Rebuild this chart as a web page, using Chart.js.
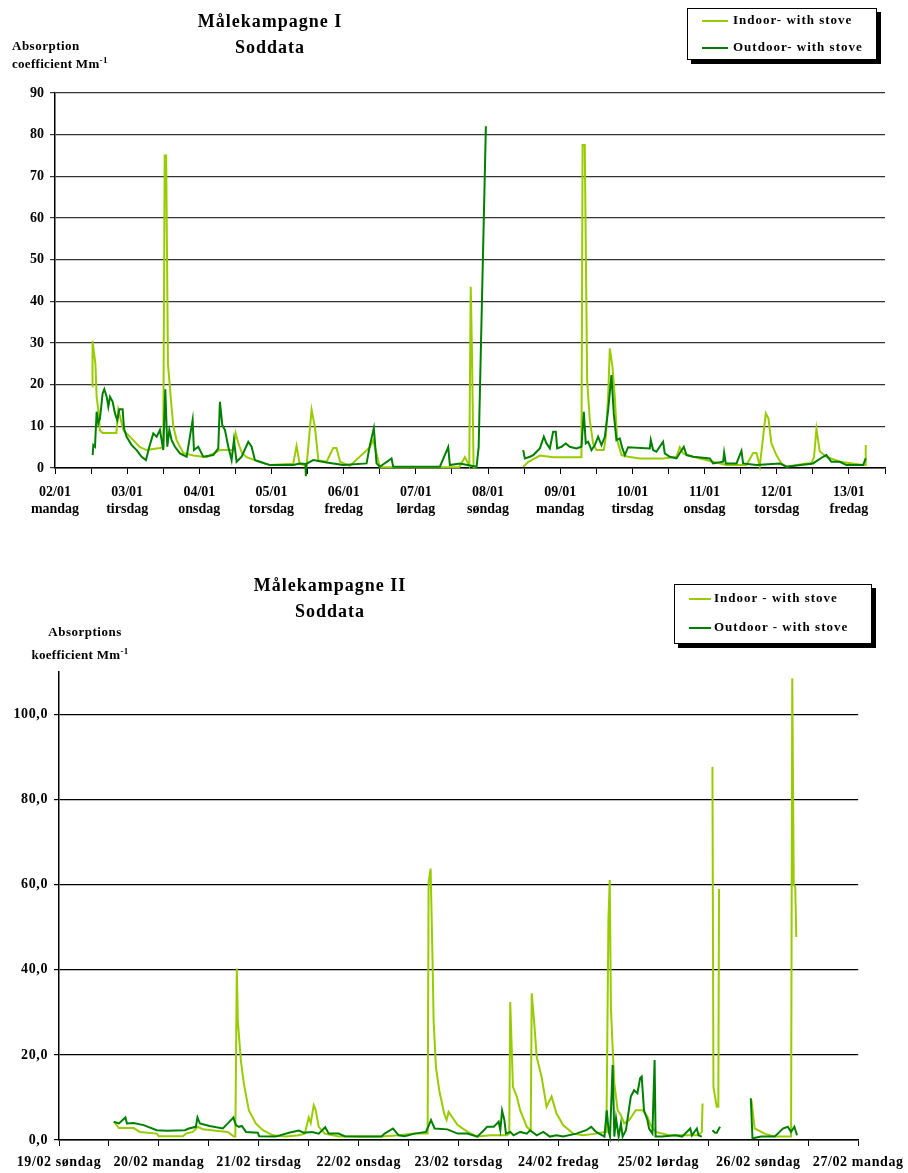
<!DOCTYPE html>
<html><head><meta charset="utf-8">
<script src="https://cdn.jsdelivr.net/npm/chart.js@4.4.1/dist/chart.umd.min.js"></script>
<style>
html,body{margin:0;padding:0;background:#fff;}
body{width:908px;height:1173px;position:relative;overflow:hidden;font-family:"Liberation Serif",serif;font-weight:bold;color:#000;}
.t{position:absolute;white-space:nowrap;}
.c{text-align:center;}
.legend{position:absolute;background:#fff;border:1.5px solid #000;box-shadow:4px 4px 0 #000;}
.li{position:absolute;left:0;white-space:nowrap;font-size:13px;letter-spacing:1px;}
.ln{display:inline-block;width:26px;height:2px;vertical-align:middle;margin-right:5px;}
canvas{position:absolute;left:0;}
</style></head><body>
<canvas id="c1" width="908" height="530" style="top:0"></canvas>
<canvas id="c2" width="908" height="613" style="top:560px"></canvas>

<div class="t c" style="left:170px;width:200px;top:11px;font-size:18px;letter-spacing:1px;">Målekampagne I</div>
<div class="t c" style="left:170px;width:200px;top:37px;font-size:18px;letter-spacing:1px;">Soddata</div>
<div class="t" style="left:12px;top:38px;font-size:13px;letter-spacing:0.5px;">Absorption</div>
<div class="t" style="left:12px;top:55px;font-size:13px;letter-spacing:0.3px;">coefficient Mm<sup style="font-size:9px">-1</sup></div>
<div class="legend" style="left:687px;top:8px;width:188px;height:50px;">
  <div class="li" style="left:14px;top:3px;"><span class="ln" style="background:#99cc00"></span>Indoor- with stove</div>
  <div class="li" style="left:14px;top:30px;"><span class="ln" style="background:#008000"></span>Outdoor- with stove</div>
</div>

<div class="t c" style="left:220px;width:220px;top:575px;font-size:18px;letter-spacing:1px;">Målekampagne II</div>
<div class="t c" style="left:220px;width:220px;top:601px;font-size:18px;letter-spacing:1px;">Soddata</div>
<div class="t c" style="left:10px;width:150px;top:624px;font-size:13px;letter-spacing:0.5px;">Absorptions</div>
<div class="t c" style="left:5px;width:150px;top:646px;font-size:13px;letter-spacing:0.3px;">koefficient Mm<sup style="font-size:9px">-1</sup></div>
<div class="legend" style="left:674px;top:584px;width:196px;height:58px;">
  <div class="li" style="left:14px;top:5px;"><span class="ln" style="background:#99cc00;width:22px;margin-right:3px"></span>Indoor - with stove</div>
  <div class="li" style="left:14px;top:34px;"><span class="ln" style="background:#008000;width:22px;margin-right:3px"></span>Outdoor - with stove</div>
</div>

<script>
// ---------- Data: chart 1 (Målekampagne I), x = days after 02/01 00:00 ----------
const dates1 = ['02/01','03/01','04/01','05/01','06/01','07/01','08/01','09/01','10/01','11/01','12/01','13/01'];
const weekdays1 = ['mandag','tirsdag','onsdag','torsdag','fredag','lørdag','søndag','mandag','tirsdag','onsdag','torsdag','fredag'];
const yTicks1 = [0,10,20,30,40,50,60,70,80,90];

const indoor1T = [0.517,0.52,0.56,0.577,0.60,0.623,0.66,0.85,0.877,0.95,1.085,1.177,1.27,1.454,1.50,1.52,1.54,1.565,1.61,1.639,1.685,1.777,1.916,2.10,2.285,2.47,2.502,2.54,2.59,2.655,2.839,2.978,3.301,3.347,3.39,3.486,3.555,3.601,3.65,3.763,3.855,3.90,3.95,4.086,4.363,4.409,4.501,5.148,5.60,5.679,5.74,5.76,5.775,5.80,5.841,5.9,
  6.487,6.56,6.718,6.902,7.294,7.31,7.34,7.373,7.41,7.456,7.502,7.604,7.632,7.664,7.687,7.724,7.756,7.789,7.849,7.941,8.102,8.425,8.611,8.657,8.703,8.842,9.118,9.303,9.58,9.673,9.719,9.765,9.802,9.848,9.885,9.926,9.995,10.065,10.134,10.411,10.48,10.517,10.55,10.596,10.688,10.873,11.197,11.225,11.233];
const indoor1V = [19.5,30.5,25,17,14,9,8.4,8.4,14,9,6.7,5,4.3,4.8,5,75,75,25,15.6,10,6.7,3.6,3,2.6,4.3,4.3,8.4,6,3.6,2.6,1.4,0.7,1,5.3,1,0.5,14,9.8,1.8,1.5,4.8,4.8,1.5,0.5,5,6.7,0.2,0.2,0.2,2.6,0.5,43.5,30,0.2,0.2,null,
  0.3,1.5,3,2.6,2.6,77.5,77.5,21,11.5,5.9,4.3,4.3,7.5,17.1,28.7,24.3,17.1,6.7,3.1,2.7,2.3,2.3,2.7,5,3.5,2.7,1.5,0.7,0.7,3.6,3.6,0.5,6,13.1,11.9,5.9,3.1,1.1,0.3,1.1,1.1,2.7,9.4,4,2.7,1.5,0.7,0.7,5.5];

const outdoor1T = [0.522,0.531,0.554,0.577,0.60,0.623,0.66,0.683,0.716,0.739,0.762,0.799,0.831,0.863,0.891,0.937,0.956,0.992,1.062,1.131,1.20,1.26,1.307,1.362,1.408,1.454,1.50,1.528,1.556,1.584,1.616,1.662,1.731,1.824,1.907,1.925,1.985,2.054,2.193,2.262,2.285,2.318,2.355,2.401,2.447,2.479,2.516,2.586,2.678,2.724,2.77,2.839,2.978,3.301,3.393,3.47,3.476,3.482,3.578,3.763,3.994,4.317,4.363,4.418,4.455,4.501,4.663,4.686,5.333,5.448,5.471,5.609,5.841,5.87,5.97,6.0,
  6.487,6.51,6.58,6.626,6.672,6.718,6.773,6.81,6.856,6.902,6.939,6.958,7.018,7.077,7.133,7.225,7.294,7.327,7.354,7.387,7.433,7.479,7.525,7.572,7.618,7.664,7.71,7.742,7.779,7.825,7.862,7.895,7.941,8.241,8.255,8.287,8.333,8.425,8.449,8.518,8.611,8.712,8.749,8.842,9.072,9.118,9.257,9.271,9.294,9.442,9.511,9.534,9.719,10.042,10.134,10.503,10.642,10.688,10.757,10.873,10.966,11.197,11.233];
const outdoor1V = [3.1,5.5,5.1,13.5,10.7,11.9,17.9,18.9,17.1,14.7,17.1,15.9,13.1,11.5,14.1,14.1,9.5,7.5,5.5,4.3,2.7,1.9,5.1,8.3,7.5,9.1,4.3,18.9,5.1,9.1,6.7,5.1,3.5,2.7,11.5,4.3,5.1,2.7,3.1,4.7,15.9,10.3,9.1,5.1,1.9,6.7,1.5,2.7,6.3,5.1,1.9,1.5,0.7,0.7,1.1,1,-2,1,1.9,1.3,0.7,1.1,5.5,9.6,1.1,0.3,2.3,0.3,0.3,5,0.7,1.1,0.3,5,82,null,
  4.3,2.3,2.7,3.1,3.9,4.7,7.5,5.9,4.7,8.7,8.7,4.7,5.1,5.9,5.1,4.7,5.1,13.5,5.9,6.3,4.3,5.5,7.5,5.5,7.5,13.9,22.3,13.1,6.7,7.1,4.7,3.1,5,4.7,6.7,4.3,3.9,6.3,3.5,2.7,2.3,5.1,3.1,2.7,2.3,1.1,1.5,3.7,1.1,1.1,4.1,1.1,0.7,1.1,0.3,1.1,2.7,3.1,1.5,1.5,0.7,0.7,2.3];

// ---------- Data: chart 2 (Målekampagne II), x = days after 19/02 00:00 ----------
const dates2 = ['19/02 søndag','20/02 mandag','21/02 tirsdag','22/02 onsdag','23/02 torsdag','24/02 fredag','25/02 lørdag','26/02 søndag','27/02 mandag'];
const yTicks2 = [0,20,40,60,80,100];

const indoor2T = [0.549,0.60,0.747,0.81,0.979,1.0,1.24,1.27,1.34,1.39,1.44,1.57,1.69,1.75,1.765,1.78,1.79,1.80,1.82,1.85,1.90,1.97,2.04,2.14,2.27,2.40,2.46,2.50,2.52,2.55,2.57,2.60,2.66,2.80,3.23,3.40,3.56,3.69,3.70,3.72,3.74,3.75,3.773,3.806,3.856,3.88,3.90,3.99,4.09,4.187,4.319,4.484,4.507,4.517,4.544,4.583,4.616,4.683,4.722,4.732,4.755,4.782,4.831,4.881,4.931,4.98,5.046,5.146,5.245,5.377,5.46,5.48,5.50,5.513,5.525,5.54,5.559,5.592,5.625,5.658,5.708,5.774,5.84,5.89,5.923,5.972,6.105,6.303,6.402,6.435,6.442,6.49,
  6.541,6.551,6.584,6.60,6.607,6.75,6.931,6.964,7.063,7.163,7.328,7.34,7.355,7.37,7.38];
const indoor2V = [4.3,2.8,2.8,1.9,1.5,0.9,0.9,1.5,1.9,3.1,2.5,2.2,1.9,0.8,0.8,40.3,28,25,18.8,13.3,7.0,3.9,2.3,1.1,0.8,1.1,1.5,5.3,4.0,8.2,7.0,3.1,1.5,0.8,0.8,1.1,1.5,1.5,60.6,63.8,41.5,28,17.2,11.7,6.2,4.7,6.6,3.5,1.9,0.8,1.1,1.1,1.5,32.4,12.5,10.2,7.0,3.1,2.2,34.5,28.1,19.5,14.8,7.8,10.2,6.2,3.5,1.5,1.1,1.5,1.9,1.9,52,61.1,31,22.7,13.3,7.0,5.8,3.9,4.7,7.0,7.0,5.5,3.5,1.9,1.1,1.1,1.1,1.9,8.6,null,
  87.7,12.5,7.8,7.8,59,null,9.4,2.7,1.5,0.8,0.8,108.5,60,59.4,47.7];

const outdoor2T = [0.549,0.60,0.665,0.68,0.747,0.847,0.979,1.078,1.26,1.30,1.37,1.386,1.41,1.508,1.64,1.69,1.746,1.77,1.80,1.83,1.872,1.99,2.004,2.169,2.302,2.401,2.45,2.533,2.60,2.665,2.70,2.798,2.86,3.029,3.228,3.26,3.343,3.40,3.459,3.56,3.674,3.724,3.76,3.889,3.99,4.088,4.187,4.253,4.286,4.352,4.385,4.401,4.418,4.435,4.458,4.474,4.517,4.55,4.616,4.683,4.716,4.782,4.848,4.914,4.98,5.046,5.179,5.278,5.327,5.377,5.46,5.483,5.503,5.516,5.542,5.559,5.576,5.602,5.625,5.642,5.675,5.724,5.757,5.79,5.817,5.833,5.856,5.89,5.907,5.94,5.962,5.972,6.038,6.171,6.237,6.319,6.336,6.385,6.402,6.435,6.49,
  6.541,6.567,6.584,6.617,6.75,6.925,6.942,7.03,7.163,7.196,7.246,7.295,7.328,7.361,7.388];
const outdoor2V = [4.3,3.9,5.3,3.9,4.0,3.5,2.3,2.2,2.3,2.7,3.1,5.3,3.9,3.3,2.7,3.9,5.3,3.5,3.1,3.3,1.9,1.7,0.9,0.8,1.7,2.2,1.7,1.9,1.5,3.0,1.5,1.5,0.9,0.8,0.8,1.5,2.7,1.1,0.9,1.5,1.9,4.7,2.7,2.5,1.5,1.5,0.8,2.3,3.1,3.1,3.9,4.3,2.3,6.9,4.7,1.5,1.9,1.1,1.9,1.5,2.3,1.1,1.9,0.8,1.1,0.8,1.5,2.3,3.1,1.9,0.8,7.0,1.9,0.8,17.6,0.8,5.1,0.8,3.9,0.8,2.3,10.2,11.7,11.0,14.5,14.9,7.0,4.7,2.7,1.5,18.8,0.8,0.8,1.1,0.8,2.7,1.1,2.7,1.1,0.8,null,
  2.3,1.7,1.7,3.1,null,9.8,0.4,0.8,0.8,1.5,2.7,3.1,1.9,3.1,1.1];

// ---------- Rendering ----------
const LIGHT = '#99cc00', DARK = '#008000';
Chart.defaults.font.family = '"Liberation Serif", "Times New Roman", serif';
Chart.defaults.font.weight = 'bold';
Chart.defaults.color = '#000';
Chart.defaults.animation = false;

function pts(T, V){ return T.map((t,i)=>({x:t, y:V[i]})); }

function makeChart(id, cfg){
  const halfTicks = [];
  for (let i = 0; i <= cfg.xMax * 2; i++) halfTicks.push({value: i/2});
  return new Chart(document.getElementById(id), {
    type: 'line',
    data: { datasets: [
      { label: 'Outdoor', data: pts(cfg.oT, cfg.oV), borderColor: DARK, borderWidth: 2, pointRadius: 0, tension: 0, spanGaps: false, clip: false },
      { label: 'Indoor', data: pts(cfg.iT, cfg.iV), borderColor: LIGHT, borderWidth: 2, pointRadius: 0, tension: 0, spanGaps: false, clip: false }
    ]},
    plugins: [{ id: 'spacing', beforeDraw: ch => { try { ch.ctx.letterSpacing = cfg.spacing; } catch(e){} } }],
    options: {
      responsive: false, devicePixelRatio: 1,
      layout: { autoPadding: false, padding: cfg.padding },
      plugins: { legend: {display:false}, tooltip: {enabled:false} },
      scales: {
        x: {
          type: 'linear', min: 0, max: cfg.xMax,
          afterBuildTicks: s => { s.ticks = halfTicks.slice(); },
          afterFit: s => { s.height = cfg.xHeight; },
          border: { color: '#000', width: 1.5 },
          grid: { drawOnChartArea: false, drawTicks: true, tickLength: 6, color: '#000', lineWidth: 1 },
          ticks: { autoSkip: false, maxRotation: 0, minRotation: 0, padding: cfg.xPad,
                   font: { size: cfg.xFont, weight: 'bold' },
                   callback: v => Number.isInteger(v) ? cfg.xLabel(v) : '' }
        },
        y: {
          min: 0, max: cfg.yMax,
          afterBuildTicks: s => { s.ticks = cfg.yTicks.map(v => ({value: v})); },
          afterFit: s => { s.width = cfg.yWidth; },
          border: { color: '#000', width: 1.5 },
          grid: { color: cfg.gridColor, lineWidth: 1.2, tickLength: 5, drawTicks: true },
          ticks: { padding: 6, font: { size: 14, weight: 'bold' }, callback: cfg.yFmt }
        }
      }
    }
  });
}

makeChart('c1', {
  oT: outdoor1T, oV: outdoor1V, iT: indoor1T, iV: indoor1V,
  xMax: 11.5, yMax: 90, yTicks: yTicks1,
  padding: { left: 0, right: 23, top: 93, bottom: 0 },
  xHeight: 62, yWidth: 55, xPad: 10, xFont: 14, gridColor: '#333', spacing: '0px',
  xLabel: v => [dates1[v], weekdays1[v]],
  yFmt: v => String(v)
});

makeChart('c2', {
  oT: outdoor2T, oV: outdoor2V, iT: indoor2T, iV: indoor2V,
  xMax: 8, yMax: 110, yTicks: yTicks2,
  padding: { left: 0, right: 44, top: 112, bottom: 0 },
  xHeight: 33, yWidth: 59, xPad: 8, xFont: 14, gridColor: '#000', spacing: '0.6px',
  xLabel: v => dates2[v],
  yFmt: v => v.toFixed(1).replace('.', ',')
});
</script>
</body></html>
